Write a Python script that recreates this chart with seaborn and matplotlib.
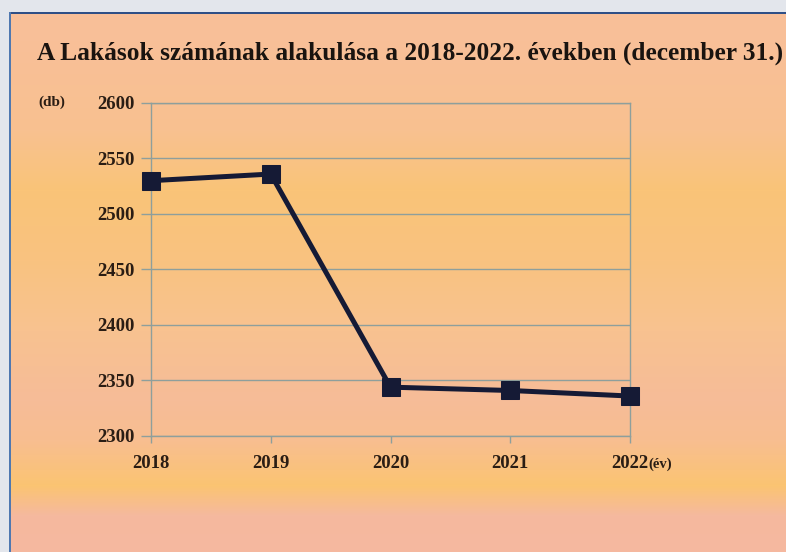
import numpy as np
import pandas as pd
import matplotlib
matplotlib.use("Agg")
import matplotlib.pyplot as plt
import seaborn as sns
from matplotlib.colors import to_rgb

years = [2018, 2019, 2020, 2021, 2022]
lakasok = [2530, 2536, 2344, 2341, 2336]
y_ticks = [2300, 2350, 2400, 2450, 2500, 2550, 2600]
title = "A Lakások számának alakulása a 2018-2022. években (december 31.)"
y_unit = "(db)"
x_unit = "(év)"

sns.set_theme(style="white")
plt.rcParams["font.family"] = ["Liberation Serif", "DejaVu Serif"]

W, H = 786, 552
fig = plt.figure(figsize=(W / 100, H / 100), dpi=100)

# background (scanned orange gradient)
stops_y = [0, 40, 130, 190, 260, 330, 400, 440, 485, 515, 552]
stops_c = ["#f8bf98", "#f8bf98", "#f8c190", "#fac478", "#f9c280", "#f8c290",
           "#f6bc98", "#f8be90", "#fbc472", "#f5b99e", "#f5b8a0"]
rgb = np.array([to_rgb(c) for c in stops_c])
rows = np.arange(H)
prof = np.stack([np.interp(rows, stops_y, rgb[:, k]) for k in range(3)], axis=1)
img = np.repeat(prof[:, None, :], W, axis=1)
strip = np.array(to_rgb("#e3e6ec"))
img[:12, :, :] = strip
img[:, :9, :] = strip
img[12:14, 9:, :] = np.array(to_rgb("#2f4f86"))
img[12:, 9:11, :] = np.array(to_rgb("#4f78b0"))
bg = fig.add_axes([0, 0, 1, 1], zorder=-5)
bg.imshow(img, extent=(0, W, H, 0), aspect="auto", interpolation="bilinear")
bg.set_xlim(0, W)
bg.set_ylim(H, 0)
bg.axis("off")

L, R, T, B = 151, 630, 103, 436
ax = fig.add_axes([L / W, 1 - B / H, (R - L) / W, (B - T) / H])
ax.patch.set_alpha(0)

df = pd.DataFrame({"year": years, "value": lakasok})
sns.lineplot(data=df, x="year", y="value", ax=ax, color="#151a35",
             linewidth=3.6, marker="s", markersize=12.5, markeredgecolor="#151a35",
             clip_on=False, zorder=5)

grid_c = "#8e9f9c"
text_c = "#2a1d14"
ax.set_xlim(2018, 2022)
ax.set_ylim(2300, 2600)
ax.set_yticks(y_ticks)
ax.set_xticks(years)
ax.set_xticklabels([str(y) for y in years])
ax.yaxis.grid(True, color=grid_c, linewidth=1.0)
ax.xaxis.grid(False)
for s in ax.spines.values():
    s.set_visible(True)
    s.set_color(grid_c)
    s.set_linewidth(1.0)
ax.tick_params(axis="y", length=7, width=1, color=grid_c, labelsize=13.5,
               labelcolor=text_c, pad=5, left=True)
ax.tick_params(axis="x", length=5, width=1, color=grid_c, labelsize=13.5,
               labelcolor=text_c, pad=9, bottom=True)
for lab in ax.get_xticklabels() + ax.get_yticklabels():
    lab.set_fontweight("bold")
ax.set_xlabel("")
ax.set_ylabel("")

fig.text(37 / W, 1 - 53 / H, title, fontsize=18.3, fontweight="bold",
         color="#1a1410", ha="left", va="center")
fig.text(38 / W, 1 - 102 / H, y_unit, fontsize=11, fontweight="bold",
         color=text_c, ha="left", va="center")
fig.text(648 / W, 1 - 464 / H, x_unit, fontsize=10.5, fontweight="bold",
         color=text_c, ha="left", va="center")

fig.savefig("out.png", dpi=100)
